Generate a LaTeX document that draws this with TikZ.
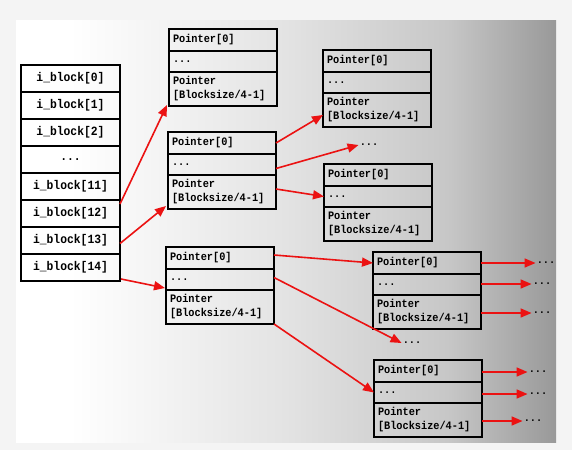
\documentclass[tikz,border=0pt]{standalone}
\usepackage{fontspec}
\setmonofont{Liberation Mono}[FakeStretch=0.9]
\usetikzlibrary{arrows.meta,calc}
\definecolor{redarr}{RGB}{235,18,18}
\definecolor{outerbg}{RGB}{244,244,244}
\pgfdeclarehorizontalshading{panelbg}{100bp}{color(0bp)=(white); color(30bp)=(white); color(50bp)=(white!89!black); color(65bp)=(white!78!black); color(75bp)=(white!60!black); color(100bp)=(white!60!black)}
\tikzset{
  lcell/.style={draw=black, line width=2pt, outer sep=0pt, minimum width=99pt, minimum height=27pt, inner sep=0pt, font=\ttfamily\bfseries\fontsize{12.6}{14}\selectfont},
  pcell/.style={draw=black, line width=2pt, outer sep=0pt, inner xsep=4pt, inner ysep=0pt, text width=100pt, align=left, font=\ttfamily\bfseries\fontsize{11.4}{14}\selectfont},
  arr/.style={draw=redarr, line width=1.6pt, -{Triangle[length=11pt,width=9pt]}},
  dots/.style={font=\ttfamily\bfseries\fontsize{11.4}{12}\selectfont, inner sep=1pt},
}
\newcommand\ptrbox[3]{%
  \node[pcell, minimum height=22pt, anchor=north west] (#1a) at (#2,#3) {Pointer[0]};
  \node[pcell, minimum height=21pt, anchor=north] (#1b) at (#1a.south) {...};
  \node[pcell, minimum height=34pt, anchor=north] (#1c) at (#1b.south) {Pointer\\{[Blocksize/4-1]}};
}
\begin{document}
\begin{tikzpicture}[x=1pt,y=-1pt]
\useasboundingbox (0,0) rectangle (572,450);
\fill[outerbg] (0,0) rectangle (572,450);
\shade[shading=panelbg] (16,20) rectangle (556,442);

% left column
\node[lcell, anchor=north west] (L0) at (21,65) {i\_block[0]};
\node[lcell, anchor=north] (L1) at (L0.south) {i\_block[1]};
\node[lcell, anchor=north] (L2) at (L1.south) {i\_block[2]};
\node[lcell, anchor=north] (L3) at (L2.south) {...};
\node[lcell, anchor=north] (L4) at (L3.south) {i\_block[11]};
\node[lcell, anchor=north] (L5) at (L4.south) {i\_block[12]};
\node[lcell, anchor=north] (L6) at (L5.south) {i\_block[13]};
\node[lcell, anchor=north] (L7) at (L6.south) {i\_block[14]};

% pointer boxes
\ptrbox{A}{169}{29}
\ptrbox{B}{168}{132}
\ptrbox{C}{166}{247}
\ptrbox{D}{323}{50}
\ptrbox{E}{324}{164}
\ptrbox{F}{373}{252}
\ptrbox{G}{374}{360}

% dots
\node[dots] (dB) at (369,145) {...};
\node[dots] (dC) at (412,343) {...};
\node[dots] (dF0) at (546,263) {...};
\node[dots] (dF1) at (542,284) {...};
\node[dots] (dF2) at (542,313) {...};
\node[dots] (dG0) at (538,372) {...};
\node[dots] (dG1) at (538,394) {...};
\node[dots] (dG2) at (533,421) {...};

% arrows
\draw[arr] ($(L5.north east)+(0,4)$) -- ($(Ac.south west)+(-2,-1)$);
\draw[arr] ($(L6.east)+(0,3)$) -- ($(Bc.south west)+(-2,-3)$);
\draw[arr] ($(L7.south east)+(1,-2)$) -- ($(Cb.south west)+(-1,-2)$);
\draw[arr] (Ba.east) -- ($(Dc.west)+(0,5)$);
\draw[arr] ($(Bb.east)+(0,4)$) -- (dB.west);
\draw[arr] ($(Bc.east)+(0,-3)$) -- (Eb.west);
\draw[arr] ($(Ca.east)+(0,-3)$) -- (Fa.west);
\draw[arr] ($(Cb.east)+(0,-2)$) -- (dC.west);
\draw[arr] (Cc.south east) -- (Gb.west);
\draw[arr] (dF0.west -| Fa.east) -- (dF0.west);
\draw[arr] (dF1.west -| Fb.east) -- (dF1.west);
\draw[arr] (dF2.west -| Fc.east) -- (dF2.west);
\draw[arr] (dG0.west -| Ga.east) -- (dG0.west);
\draw[arr] (dG1.west -| Gb.east) -- (dG1.west);
\draw[arr] (dG2.west -| Gc.east) -- (dG2.west);
\end{tikzpicture}
\end{document}
